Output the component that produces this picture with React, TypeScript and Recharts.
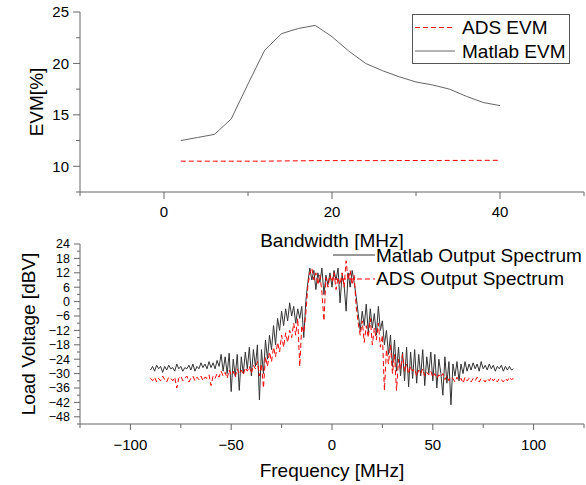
import React from "react";
import { LineChart, Line, XAxis, YAxis, Legend } from "recharts";

// EVM vs bandwidth (top panel)
const BANDWIDTH = [2, 4, 6, 8, 10, 12, 14, 16, 18, 20, 22, 24, 26, 28, 30, 32, 34, 36, 38, 40];
const MATLAB_EVM = [
  12.5, 12.8, 13.1, 14.6, 18.0, 21.3, 22.9, 23.4, 23.7, 22.6,
  21.2, 20.0, 19.3, 18.7, 18.2, 17.9, 17.5, 16.8, 16.2, 15.9,
];
const ADS_EVM = [
  10.5, 10.5, 10.5, 10.5, 10.5, 10.5, 10.52, 10.53, 10.55, 10.55,
  10.55, 10.55, 10.55, 10.56, 10.56, 10.56, 10.57, 10.57, 10.58, 10.58,
];

// output spectrum, -90..90 MHz in 1 MHz steps (bottom panel)
const FREQ_START = -90;
const MATLAB_SPECTRUM = [
  -28.5, -27, -29, -26.5, -28, -27, -29.5, -27, -28.5, -26.5, // -90
  -28, -27.5, -29, -26, -28, -27, -29, -27.5, -28, -26.5, // -80
  -28.5, -26, -29, -27, -28, -25.5, -27.5, -26, -28, -25, // -70
  -27.5, -25.5, -28, -24.5, -27, -22, -29, -23, -30, -21.5, // -60
  -37.5, -24, -31, -22, -37, -23, -30, -21, -28, -19, // -50
  -31, -20, -27, -18, -41, -20, -30, -16, -24, -14, // -40
  -20, -10, -18, -7, -12, -4, -10, -3, -8, -0.5, // -30
  -6, -2, -9, -3, -7, -2, -15, 0, 8, 14, // -20
  9, 13, 5, 12, 8, 14, 3, 11, 7, 12, // -10
  6, 13, 9, 14, -0.5, 11, 7, -4, 12, 6, // 0
  13, 8, 2, -5, -12, -4, -10, -1, -13, -3, // 10
  -11, -5, -14, -2, -12, -8, -18, -12, -22, -14, // 20
  -27, -16, -29, -19, -31, -21, -33, -19, -35.5, -21, // 30
  -32, -20, -34, -22, -31, -20, -35, -23, -30, -21, // 40
  -33, -22, -36, -24, -30, -39, -23, -34, -25, -43, // 50
  -26, -31, -25, -33, -26, -30, -25, -29, -26, -28.5, // 60
  -25.5, -28, -26, -29, -25, -28, -26.5, -28.5, -26, -28, // 70
  -26.5, -29, -27, -28, -26.5, -29, -27, -28.5, -27, -28.5, // 80
  -28, // 90
];
const ADS_SPECTRUM = [
  -32, -33, -31.5, -33.5, -32, -33, -31, -32.5, -33.5, -31.5, // -90
  -32, -33, -31.5, -36, -32, -31, -33, -32, -31, -33.5, // -80
  -32, -31, -33, -31.5, -32.5, -31, -33, -31.5, -32, -30.5, // -70
  -35, -31, -32, -30, -31.5, -29, -31, -29.5, -32, -28.5, // -60
  -30.5, -29, -31.5, -28, -30, -28.5, -30.5, -27.5, -29, -27, // -50
  -30, -26.5, -28, -25, -31, -26, -36, -23, -27, -21, // -40
  -25, -19, -23, -17, -21, -14, -19, -13, -17, -12, // -30
  -15, -9, -14, -7, -27, -10, -13, -5, 6, 12, // -20
  14, 9, 12, 7, 11, 4, -8, 10, 6, 11, // -10
  8, 12, 5, 10, 7, 12, 6, 17, 9, 13, // 0
  7, 11, -2, -9, -14, -8, -17, -10, -15, -7, // 10
  -18, -11, -16, -9, -19, -14, -37, -20, -26, -18, // 20
  -30, -22, -37, -24, -28, -22, -29, -26, -30, -27, // 30
  -29, -28, -31, -28.5, -30, -28, -31, -29.5, -30.5, -29, // 40
  -31.5, -30, -32, -30.5, -31.5, -30, -32.5, -31, -33, -31.5, // 50
  -32, -33.5, -31.5, -33, -32, -34, -31.5, -33, -32, -33.5, // 60
  -32, -33, -31.5, -33.5, -32, -32.5, -33.5, -32, -33, -31.5, // 70
  -33, -32, -33.5, -32, -32.5, -33.5, -32, -33, -31.5, -32.5, // 80
  -32, // 90
];

const TOP_X_TICKS = [-10, 0, 10, 20, 30, 40, 50];
const TOP_X_LABELS = [0, 20, 40];
const TOP_Y_TICKS = [7.5, 10, 12.5, 15, 17.5, 20, 22.5, 25];
const TOP_Y_LABELS = [10, 15, 20, 25];
const BOT_X_TICKS = [-125, -100, -75, -50, -25, 0, 25, 50, 75, 100, 125];
const BOT_X_LABELS = [-100, -50, 0, 50, 100];
const BOT_Y_TICKS = [
  -51, -48, -45, -42, -39, -36, -33, -30, -27, -24, -21, -18, -15, -12,
  -9, -6, -3, 0, 3, 6, 9, 12, 15, 18, 21, 24,
];
const BOT_Y_LABELS = [-48, -42, -36, -30, -24, -18, -12, -6, 0, 6, 12, 18, 24];

const FONT = "'Liberation Sans', Arial, sans-serif";
const AXIS = "#666";
const RED = "#ff0000";
const DASH = "5 3";

const evmData = BANDWIDTH.map((bw, i) => ({
  bw,
  ads: ADS_EVM[i],
  matlab: MATLAB_EVM[i],
}));

const spectrumData = MATLAB_SPECTRUM.map((v, i) => ({
  f: FREQ_START + i,
  matlab: v,
  ads: ADS_SPECTRUM[i],
}));

const fmt = (v: number) => (v < 0 ? "\u2212" + Math.abs(v) : String(v));

function xTick(labels: number[], offset: number, major: number, minor: number) {
  return (p: any) => {
    const v = p.payload.value;
    const isMajor = labels.includes(v);
    const axisY = p.y - offset;
    return (
      <g>
        <line x1={p.x} x2={p.x} y1={axisY} y2={axisY + (isMajor ? major : minor)} stroke={AXIS} />
        {isMajor && (
          <text x={p.x} y={p.y} dy="0.71em" textAnchor="middle" fontSize={15} fill="#000">
            {fmt(v)}
          </text>
        )}
      </g>
    );
  };
}

function yTick(labels: number[], offset: number, major: number, minor: number, size: number) {
  return (p: any) => {
    const v = p.payload.value;
    const isMajor = labels.includes(v);
    const axisX = p.x + offset;
    return (
      <g>
        <line x1={axisX} x2={axisX - (isMajor ? major : minor)} y1={p.y} y2={p.y} stroke={AXIS} />
        {isMajor && (
          <text x={p.x} y={p.y} dy="0.355em" textAnchor="end" fontSize={size} fill="#000">
            {fmt(v)}
          </text>
        )}
      </g>
    );
  };
}

function xTitle(text: string, dy: number) {
  return (p: any) => {
    const vb = p.viewBox;
    return (
      <text x={vb.x + vb.width / 2} y={vb.y + dy} textAnchor="middle" fontSize={19} fill="#000">
        {text}
      </text>
    );
  };
}

function yTitle(text: string, bx: number) {
  return (p: any) => {
    const vb = p.viewBox;
    const cy = vb.y + vb.height / 2;
    return (
      <text
        x={bx}
        y={cy}
        transform={`rotate(-90, ${bx}, ${cy})`}
        textAnchor="middle"
        fontSize={19}
        fill="#000"
      >
        {text}
      </text>
    );
  };
}

// keep legend rows in the order the series are drawn
const ordered = (payload: any[], keys: string[]) =>
  keys.map((k) => (payload || []).find((e: any) => e.dataKey === k)).filter(Boolean);

function EvmLegend({ payload }: any) {
  return (
    <svg width={158} height={50} style={{ display: "block" }}>
      <rect x={0.5} y={0.5} width={157} height={49} fill="#fff" stroke="#555" />
      {ordered(payload, ["ads", "matlab"]).map((e: any, i: number) => (
        <g key={e.value}>
          <line
            x1={3}
            x2={43}
            y1={13.5 + i * 23.5}
            y2={13.5 + i * 23.5}
            stroke={e.color}
            strokeDasharray={e.dataKey === "ads" ? DASH : undefined}
          />
          <text x={50} y={20 + i * 23.5} fontSize={19} fill="#000" fontFamily={FONT}>
            {e.value}
          </text>
        </g>
      ))}
    </svg>
  );
}

function SpectrumLegend({ payload }: any) {
  return (
    <svg width={256} height={45} style={{ display: "block" }}>
      {ordered(payload, ["matlab", "ads"]).map((e: any, i: number) => (
        <g key={e.value}>
          <line
            x1={3}
            x2={45}
            y1={10 + i * 24}
            y2={10 + i * 24}
            stroke={e.color}
            strokeDasharray={e.dataKey === "ads" ? DASH : undefined}
          />
          <text x={46} y={16.5 + i * 23.5} fontSize={19} fill="#000" fontFamily={FONT}>
            {e.value}
          </text>
        </g>
      ))}
    </svg>
  );
}

export default function App() {
  return (
    <div
      style={{
        position: "absolute",
        left: 0,
        top: 0,
        width: 586,
        height: 485,
        background: "#fff",
        fontFamily: FONT,
      }}
    >
      <div style={{ position: "absolute", left: 0, top: 0 }}>
        <LineChart width={586} height={250} data={evmData} margin={{ top: 12, right: 2, bottom: 0, left: 0 }}>
          <XAxis
            dataKey="bw"
            type="number"
            domain={[-10, 50]}
            ticks={TOP_X_TICKS}
            interval={0}
            height={58}
            tickSize={7}
            tickMargin={7}
            tickLine={false}
            stroke={AXIS}
            tick={xTick(TOP_X_LABELS, 14, 7, 4)}
            label={xTitle("Bandwidth [MHz]", 55)}
          />
          <YAxis
            type="number"
            domain={[7.5, 25]}
            ticks={TOP_Y_TICKS}
            interval={0}
            width={80}
            tickSize={7}
            tickMargin={4}
            tickLine={false}
            stroke={AXIS}
            tick={yTick(TOP_Y_LABELS, 11, 7, 4, 15)}
            label={yTitle("EVM[%]", 43)}
          />
          <Legend
            layout="vertical"
            align="center"
            verticalAlign="middle"
            content={<EvmLegend />}
            wrapperStyle={{ left: 412, top: 14, width: 158, height: 50 }}
          />
          <Line
            dataKey="ads"
            name="ADS EVM"
            stroke={RED}
            strokeDasharray={DASH}
            strokeWidth={1}
            dot={false}
            isAnimationActive={false}
          />
          <Line
            dataKey="matlab"
            name="Matlab EVM"
            stroke="#666"
            strokeWidth={1}
            dot={false}
            isAnimationActive={false}
          />
        </LineChart>
      </div>
      <div style={{ position: "absolute", left: 0, top: 232 }}>
        <LineChart width={586} height={253} data={spectrumData} margin={{ top: 12, right: 2, bottom: 0, left: 0 }}>
          <XAxis
            dataKey="f"
            type="number"
            domain={[-125, 125]}
            ticks={BOT_X_TICKS}
            interval={0}
            height={61}
            tickSize={6}
            tickMargin={9}
            tickLine={false}
            stroke={AXIS}
            tick={xTick(BOT_X_LABELS, 15, 6, 4)}
            label={xTitle("Frequency [MHz]", 52.5)}
          />
          <YAxis
            type="number"
            domain={[-51, 24]}
            ticks={BOT_Y_TICKS}
            interval={0}
            width={80}
            tickSize={6}
            tickMargin={4}
            tickLine={false}
            stroke={AXIS}
            tick={yTick(BOT_Y_LABELS, 10, 6, 3, 12.5)}
            label={yTitle("Load Voltage [dBV]", 34.5)}
          />
          <Legend
            layout="vertical"
            align="center"
            verticalAlign="middle"
            content={<SpectrumLegend />}
            wrapperStyle={{ left: 330, top: 13, width: 256, height: 45 }}
          />
          <Line
            dataKey="matlab"
            name="Matlab Output Spectrum"
            stroke="#333"
            strokeWidth={1}
            dot={false}
            isAnimationActive={false}
          />
          <Line
            dataKey="ads"
            name="ADS Output Spectrum"
            stroke={RED}
            strokeDasharray={DASH}
            strokeWidth={1}
            dot={false}
            isAnimationActive={false}
          />
        </LineChart>
      </div>
    </div>
  );
}
